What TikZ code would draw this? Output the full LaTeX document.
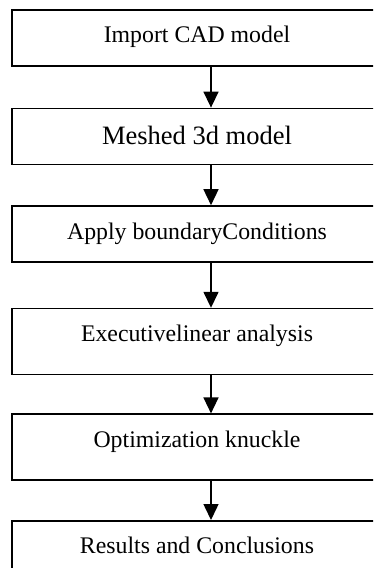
\documentclass[tikz,border=0pt]{standalone}
\usepackage{fontspec}
\setmainfont{Liberation Serif}
\usetikzlibrary{positioning,arrows.meta}

\begin{document}
\begin{tikzpicture}[x=1pt, y=1pt, node distance=40pt, line width=1.6pt,
box_style/.style={rectangle,draw=black,fill=white,minimum width=370pt,inner sep=0pt,
  text height=33pt,text depth=23pt,font=\fontsize{23.8}{28}\selectfont},
tall_style/.style={box_style,text depth=33pt},
edge_style/.style={draw=black,line width=1.5pt,-{Triangle[length=16pt,width=15pt]}}]
\clip (0,0) rectangle (373,-568);
\useasboundingbox (0,0) rectangle (373,-568);

\node[box_style, anchor=north] (cad) at (197,-9) {Import CAD model};
\node[box_style, below=41pt of cad, text height=36pt, text depth=20pt,
  font=\fontsize{26.5}{30}\selectfont] (mesh) {Meshed 3d model};
\node[box_style, below=40pt of mesh] (bc) {Apply boundaryConditions};
\node[tall_style, below=45pt of bc] (lin) {Executivelinear analysis};
\node[tall_style, below=38pt of lin] (opt) {Optimization knuckle};
\node[tall_style, below=39pt of opt] (res) {Results and Conclusions};

% arrows sit a bit right of the text centre
\draw[edge_style] ([xshift=14pt]cad.south) -- ([xshift=14pt]mesh.north);
\draw[edge_style] ([xshift=14pt]mesh.south) -- ([xshift=14pt]bc.north);
\draw[edge_style] ([xshift=14pt]bc.south) -- ([xshift=14pt]lin.north);
\draw[edge_style] ([xshift=14pt]lin.south) -- ([xshift=14pt]opt.north);
\draw[edge_style] ([xshift=14pt]opt.south) -- ([xshift=14pt]res.north);
\end{tikzpicture}
\end{document}
